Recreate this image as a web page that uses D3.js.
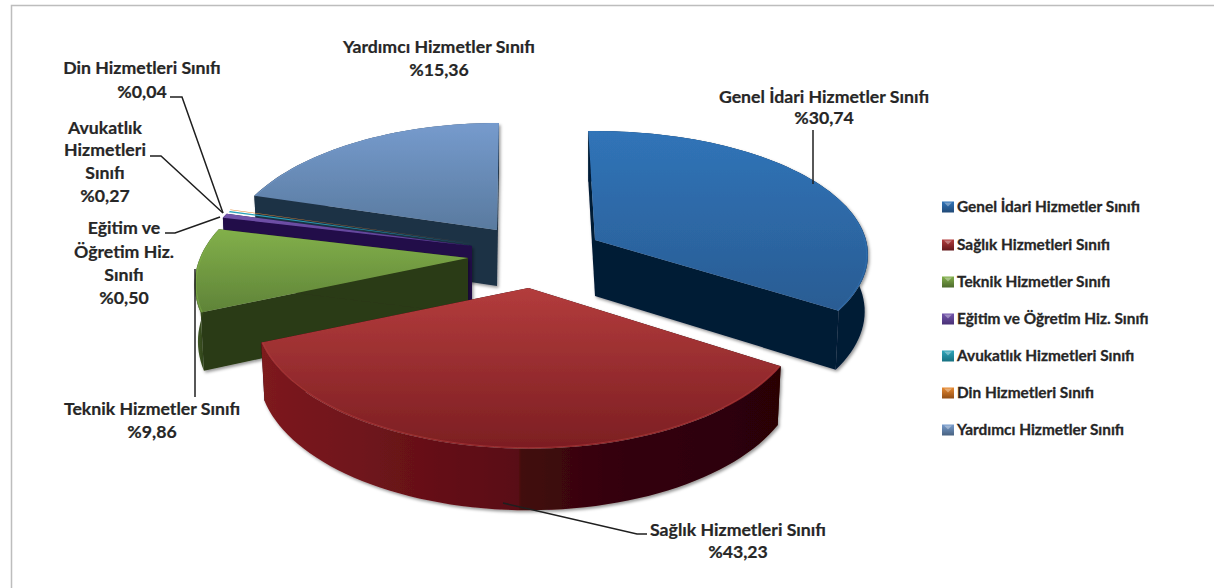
<!DOCTYPE html>
<html><head><meta charset="utf-8">
<script src="https://cdn.jsdelivr.net/npm/d3@7/dist/d3.min.js"></script>
<style>html,body{margin:0;background:#fff}svg{display:block}
text{font-family:Lato,"Open Sans",sans-serif;font-weight:700;fill:#262626;stroke:#262626;stroke-width:.2px;text-anchor:middle}
.dl{font-size:17.7px}.lg{font-size:15.4px;text-anchor:start;stroke-width:.3px}
</style></head><body><svg id="c" width="1214" height="588"></svg>
<script>
// ---- data ----
const categories=["Genel İdari Hizmetler Sınıfı","Sağlık Hizmetleri Sınıfı","Teknik Hizmetler Sınıfı","Eğitim ve Öğretim Hiz. Sınıfı","Avukatlık Hizmetleri Sınıfı","Din Hizmetleri Sınıfı","Yardımcı Hizmetler Sınıfı"];
const shares=[30.74,43.23,9.86,0.50,0.27,0.04,15.36];
const valueLabels=["%30,74","%43,23","%9,86","%0,50","%0,27","%0,04","%15,36"];
// ---- styling / layout (separate from the data) ----
const topLight=["#3074b8","#b33c3c","#82b04a","#7355ab","#2fa6bb","#e88a30","#769bcd"];
const topDark =["#2a5c93","#7c1e22","#5f8338","#5a3d92","#1d8ca0","#b3601b","#597a9f"];
const sideA  =["#021c39","#7d1a1f","#44602a","#21094a","#0f4a55","#6b3508","#1e3145"];
const sideB  =["#021a35","#2a0006","#2a3a14","#21094a","#0f4a55","#6b3508","#1e3145"];
const apexOffset=[[595,240],[528.5,288],[468,258],[472,246],[474,244.5],[474,243.5],[497,230]]; // exploded slice tips
const viewF=[271,268,268,268,268,268,267];
const viewG=[122,129,129,127,127,127,128];
const viewK=[.12,.197,.197,.197,.197,.197,.197];
const paintOrder=[6,5,4,3,2,0,1];
const labelBlocks=[
 {x:824,lines:[[categories[0],97],[valueLabels[0],118]]},
 {x:738,lines:[[categories[1],530],[valueLabels[1],552]]},
 {x:152,lines:[[categories[2],409],[valueLabels[2],432]]},
 {x:124,lines:[["Eğitim ve",228],["Öğretim Hiz.",252],["Sınıfı",275],[valueLabels[3],298]]},
 {x:105,lines:[["Avukatlık",128],["Hizmetleri",150],["Sınıfı",173],[valueLabels[4],196]]},
 {x:142,lines:[[categories[5],68],[valueLabels[5],92]]},
 {x:439,lines:[[categories[6],47],[valueLabels[6],70]]}];
const leaders=[
 [[813,130],[813,184]],
 [[503,503],[637,534],[647,534]],
 [[195,269],[195,397]],
 [[165,233],[175,233],[220,217]],
 [[150,156],[161,156],[223,213]],
 [[170,97],[182,97],[223,213]]];
const legendY=[207,245,282,319,356,393,430];

const svg=d3.select("#c"), defs=svg.append("defs");
const f=defs.append("filter").attr("id","sh").attr("x","-10%").attr("y","-10%").attr("width","125%").attr("height","125%");
f.append("feDropShadow").attr("dx",1.5).attr("dy",2).attr("stdDeviation",1.8).attr("flood-color","#000").attr("flood-opacity",.4);
const blur=defs.append("filter").attr("id","bl");blur.append("feGaussianBlur").attr("stdDeviation",.7);

// frame
svg.append("path").attr("d","M11.5 600V5.5H1214").attr("fill","none").attr("stroke","#bdbdbd").attr("stroke-width",1.5);

// cumulative share → drawn bearing: the 3D view distorts the slice angles
const cum=d3.cumsum(shares);
const bearing=d3.scaleLinear().domain([0,...cum])
  .range([-1.6,122.8,247,283.5,285.5,286.2,286.4,360.5]);
const pie=d3.pie().value(d=>d).sort(null)(shares);
const total=d3.sum(shares);
const D=56;
const rad=d=>d*Math.PI/180;
function proj(i,b,r,low){
  const X=r*Math.sin(rad(b)),Y=r*Math.cos(rad(b)),w=1/(1+viewK[i]*Y);
  const [ax,ay]=apexOffset[i];
  const sh=low?.988:1;
  return [ax+sh*viewF[i]*X*w, ay-viewG[i]*Y*w+(low?D*(1-.1*Y):0)];
}
const line=d3.line();
paintOrder.forEach(i=>{
  const p=pie[i];
  const a=bearing(p.startAngle/(2*Math.PI)*total), b=bearing(p.endAngle/(2*Math.PI)*total);
  const n=Math.max(2,Math.ceil((b-a)/2));
  const bs=d3.range(n+1).map(k=>a+(b-a)*k/n);
  const thin=i>=4&&i<=5;
  const g=svg.append("g").attr("filter",thin?null:"url(#sh)");
  const ys=bs.map(t=>proj(i,t,1,false));
  const y0=d3.min([...ys.map(d=>d[1]),apexOffset[i][1]]), y1=d3.max([...ys.map(d=>d[1]),apexOffset[i][1]]);
  const x0=d3.min(ys,d=>d[0]), x1=d3.max(ys,d=>d[0]);
  const gt=defs.append("linearGradient").attr("id","t"+i).attr("gradientUnits","userSpaceOnUse").attr("x1",0).attr("x2",0).attr("y1",y0).attr("y2",y1);
  gt.append("stop").attr("offset",0).attr("stop-color",topLight[i]);
  gt.append("stop").attr("offset",1).attr("stop-color",topDark[i]);
  const gs=defs.append("linearGradient").attr("id","s"+i).attr("gradientUnits","userSpaceOnUse").attr("x1",x0).attr("x2",i===2?x0+12:x1).attr("y1",0).attr("y2",0);
  gs.append("stop").attr("offset",0).attr("stop-color",sideA[i]);
  if(i===1){gs.append("stop").attr("offset",.495).attr("stop-color","#590b14");gs.append("stop").attr("offset",.5).attr("stop-color","#420a08");gs.append("stop").attr("offset",.7).attr("stop-color","#33020a");}
  gs.append("stop").attr("offset",1).attr("stop-color",sideB[i]);
  const A=apexOffset[i], Alow=proj(i,a,0,true);
  if(!thin){
    [a,b].forEach(t=>{
      g.append("path").attr("d",line([A,proj(i,t,1,false),proj(i,t,1,true),Alow])+"Z").attr("fill",sideB[i]);
    });
    const wall=[...bs.map(t=>proj(i,t,1,false)),...bs.slice().reverse().map(t=>proj(i,t,1,true))];
    g.append("path").attr("d",line(wall)+"Z").attr("fill",`url(#s${i})`);
  }
  g.append("path").attr("d",line([A,...bs.map(t=>proj(i,t,1,false))])+"Z").attr("fill",`url(#t${i})`);
  if(!thin&&i!==3) svg.append("path").attr("d",line(bs.map(t=>proj(i,t,.995,false)))).attr("fill","none")
    .attr("stroke",topLight[i]).attr("stroke-width",1).attr("opacity",.6).attr("filter","url(#bl)");
});

// leader lines
svg.append("g").selectAll("path").data(leaders).join("path").attr("d",d=>line(d))
  .attr("fill","none").attr("stroke","#1f1f1f").attr("stroke-width",1.5);

// data labels
const lb=svg.append("g").selectAll("g").data(labelBlocks).join("g");
lb.selectAll("text").data(d=>d.lines.map(l=>({x:d.x,t:l[0],y:l[1]}))).join("text").attr("class","dl")
  .attr("x",d=>d.x).attr("y",d=>d.y).attr("dy",".35em").text(d=>d.t);

// legend
const leg=svg.append("g").selectAll("g").data(categories).join("g").attr("transform",(d,i)=>`translate(942,${legendY[i]})`);
categories.forEach((c,i)=>{
  const gl=defs.append("linearGradient").attr("id","l"+i).attr("x1",0).attr("x2",0).attr("y1",0).attr("y2",1);
  gl.append("stop").attr("offset",0).attr("stop-color",topLight[i]);
  gl.append("stop").attr("offset",1).attr("stop-color",d3.color(topDark[i]).darker(.6));
});
leg.append("rect").attr("x",0).attr("y",-5.5).attr("width",12).attr("height",11).attr("fill",(d,i)=>`url(#l${i})`);
leg.append("path").attr("d","M2 -4.5H10L6 -.5Z").attr("fill","#fff").attr("opacity",.35);
leg.append("text").attr("class","lg").attr("x",15).attr("dy",".35em").text(d=>d);
</script></body></html>
